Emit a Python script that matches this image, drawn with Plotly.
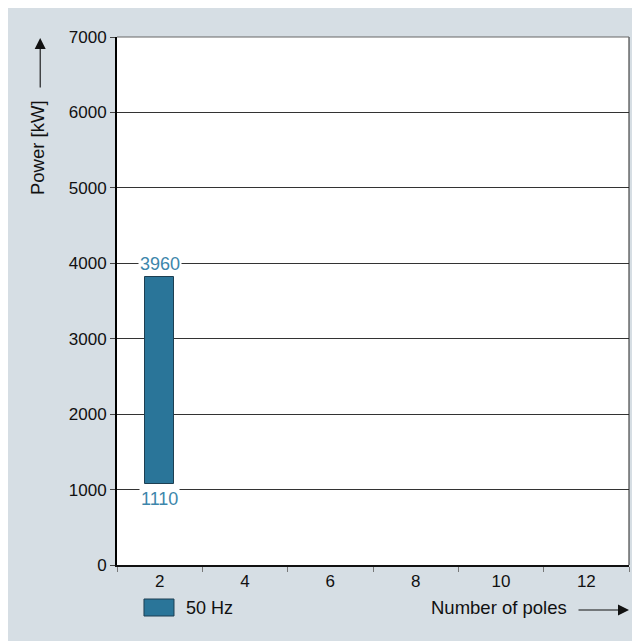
import plotly.graph_objects as go

# Data
categories = ["2", "4", "6", "8", "10", "12"]
bar_category = ["2"]
bar_low = [1075]
bar_high = [3815]
label_low = ["1110"]
label_high = ["3960"]
series_name = "50 Hz"
y_ticks = [0, 1000, 2000, 3000, 4000, 5000, 6000, 7000]

BG = "#d6dee4"
BAR = "#2a7599"
BAR_EDGE = "#1d3f52"
LABEL = "#3d86ab"
FONT = "Liberation Sans, Arial, sans-serif"

fig = go.Figure()
fig.add_trace(go.Bar(
    x=bar_category,
    y=[h - l for h, l in zip(bar_high, bar_low)],
    base=bar_low,
    width=0.345,
    marker=dict(color=BAR, line=dict(color=BAR_EDGE, width=1)),
    name=series_name,
    showlegend=False,
    hoverinfo="skip",
))

annotations = []
for c, lo, hi, tlo, thi in zip(bar_category, bar_low, bar_high, label_low, label_high):
    xi = categories.index(c)
    annotations.append(dict(x=xi, y=hi, xref="x", yref="y", text=thi, showarrow=False,
                            yshift=13, bgcolor="white", borderpad=1,
                            font=dict(size=18, color=LABEL, family=FONT)))
    annotations.append(dict(x=xi, y=lo, xref="x", yref="y", text=tlo, showarrow=False,
                            yshift=-15, bgcolor="white", borderpad=1,
                            font=dict(size=18, color=LABEL, family=FONT)))

# axis titles with arrows
annotations.append(dict(x=-0.154, y=0.79, xref="paper", yref="paper", text="Power [kW]",
                        textangle=-90, showarrow=False, xanchor="center", yanchor="middle",
                        font=dict(size=18.5, color="#111", family=FONT)))
annotations.append(dict(x=-0.150, y=0.998, xref="paper", yref="paper", text="",
                        showarrow=True, ax=0, ay=51, arrowhead=2, arrowsize=2,
                        arrowwidth=1.1, arrowcolor="#111"))
annotations.append(dict(x=0.883, y=-0.081, xref="paper", yref="paper", text="Number of poles",
                        showarrow=False, xanchor="right", yanchor="middle",
                        font=dict(size=18.5, color="#111", family=FONT)))
annotations.append(dict(x=1.0, y=-0.0852, xref="paper", yref="paper", text="",
                        showarrow=True, ax=-52, ay=0, arrowhead=2, arrowsize=2,
                        arrowwidth=1.1, arrowcolor="#111"))
# manual legend text
annotations.append(dict(x=0.1309, y=-0.0814, xref="paper", yref="paper", text=series_name,
                        showarrow=False, xanchor="left", yanchor="middle",
                        font=dict(size=18, color="#111", family=FONT)))

shapes = [
    # legend swatch
    dict(type="rect", xref="paper", yref="paper", x0=0.0527, x1=0.1113, y0=-0.0966, y1=-0.0644,
         fillcolor=BAR, line=dict(color=BAR_EDGE, width=1)),
    # right frame
    dict(type="line", xref="paper", yref="paper", x0=1, x1=1, y0=0, y1=1,
         line=dict(color="#222", width=1)),
    # top frame
    dict(type="line", xref="paper", yref="paper", x0=0, x1=1, y0=1, y1=1,
         line=dict(color="#666", width=1)),
]

fig.update_layout(
    width=624, height=634,
    margin=dict(l=109, r=3, t=29, b=77),
    paper_bgcolor=BG, plot_bgcolor="white",
    font=dict(family=FONT, size=17, color="#111"),
    showlegend=False,
    annotations=annotations,
    shapes=shapes,
    bargap=0,
    xaxis=dict(
        type="category", categoryorder="array", categoryarray=categories,
        range=[-0.5, len(categories) - 0.5],
        tickson="boundaries", ticks="outside", ticklen=5, tickcolor="#777", tickwidth=1,
        showgrid=False, showline=True, linecolor="#111", linewidth=1.5,
        tickfont=dict(size=17, color="#111", family=FONT), zeroline=False,
    ),
    yaxis=dict(
        range=[0, 7000], tickvals=y_ticks, ticks="outside", ticklen=5, tickcolor="#444",
        showgrid=True, gridcolor="#333", gridwidth=1, zeroline=False,
        showline=True, linecolor="#000", linewidth=2,
        tickfont=dict(size=17, color="#111", family=FONT),
    ),
)

fig.write_html("out.html")
